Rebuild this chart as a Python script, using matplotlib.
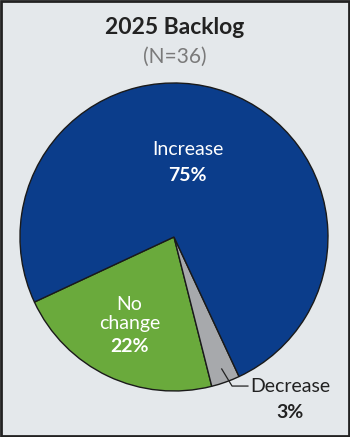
import matplotlib.pyplot as plt
from matplotlib.patches import Rectangle

plt.rcParams['font.family'] = ['Lato', 'DejaVu Sans']

labels = ['No change', 'Decrease', 'Increase']
values = [22, 3, 75]
colors = ['#6aaa3c', '#a7a9ac', '#0b3d8b']
title = '2025 Backlog'
subtitle = '(N=36)'

fig = plt.figure(figsize=(3.5, 4.37), dpi=100)
fig.patch.set_facecolor('#e4e8eb')
fig.patches.append(Rectangle((0.003, 0.002), 0.994, 0.995, transform=fig.transFigure,
                             fill=False, edgecolor='#222222', linewidth=2))

ax = fig.add_axes([0.0571, 0.1053, 0.88, 0.7048])
ax.pie(values, colors=colors, startangle=205, counterclock=True,
       wedgeprops=dict(edgecolor='#1a1a1a', linewidth=1.0))
ax.set_xlim(-1, 1)
ax.set_ylim(-1, 1)
ax.set_aspect('equal')
ax.axis('off')

fig.text(0.5, 0.938, title, ha='center', va='center', fontsize=16.5, fontweight='bold', color='#222222')
fig.text(0.5, 0.87, subtitle, ha='center', va='center', fontsize=15, color='#7a7a7a')

# Increase
ax.text(0.09, 0.565, labels[2], ha='center', va='center', fontsize=14, color='white')
ax.text(0.09, 0.40, f'{values[2]}%', ha='center', va='center', fontsize=14, color='white', fontweight='bold')
# No change
ax.text(-0.29, -0.44, 'No', ha='center', va='center', fontsize=14, color='white')
ax.text(-0.29, -0.56, 'change', ha='center', va='center', fontsize=14, color='white')
ax.text(-0.29, -0.71, f'{values[0]}%', ha='center', va='center', fontsize=14, color='white', fontweight='bold')
# Decrease
ax.plot([0.31, 0.377, 0.48], [-0.857, -0.968, -0.968], color='#222222', linewidth=0.9, clip_on=False)
ax.text(0.755, -0.97, labels[1], ha='center', va='center', fontsize=14, color='#222222', clip_on=False)
ax.text(0.75, -1.14, f'{values[1]}%', ha='center', va='center', fontsize=14, color='#222222',
        fontweight='bold', clip_on=False)

fig.savefig('out.png', dpi=100, facecolor=fig.get_facecolor())
